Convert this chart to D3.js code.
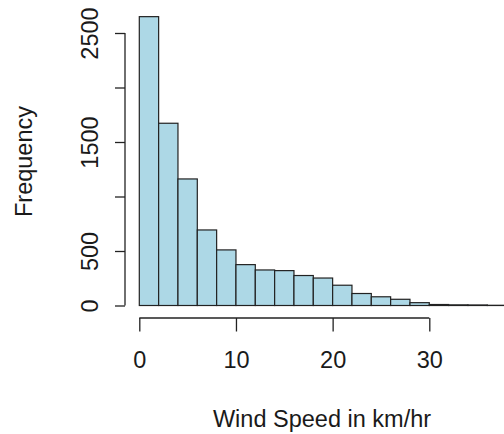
<!DOCTYPE html>
<html>
<head>
<meta charset="utf-8">
<script src="https://cdn.jsdelivr.net/npm/d3@7"></script>
<style>
html,body{margin:0;padding:0;background:#fff;}
svg{display:block;}
text{font-family:"Liberation Sans",Arial,Helvetica,sans-serif;fill:#1a1a1a;}
</style>
</head>
<body>
<svg id="chart" width="504" height="434"></svg>
<script>
// Histogram bins (km/hr), width 2
const binStarts = [0,2,4,6,8,10,12,14,16,18,20,22,24,26,28,30,32,34,36,38];
const binWidth = 2;
const counts = [2650,1672,1161,693,510,375,326,320,275,252,186,110,80,57,26,9,6,5,2,1];

const xTickValues = [0,10,20,30];
const xTickLabels = ["0","10","20","30"];
const yTickValues = [0,500,1000,1500,2000,2500];
const yTickLabels = ["0","500","","1500","","2500"];

const xLabel = "Wind Speed in km/hr";
const yLabel = "Frequency";

const svg = d3.select("#chart");
const x = d3.scaleLinear().domain([0,30]).range([139.3,429.3]);
const y = d3.scaleLinear().domain([0,2500]).range([305.5,33]);

const fs = 23.5;

// bars
svg.append("g").selectAll("rect")
  .data(binStarts.map((s,i)=>({s, c:counts[i]})))
  .join("rect")
  .attr("x", d=>x(d.s))
  .attr("width", d=>x(d.s+binWidth)-x(d.s))
  .attr("y", d=>y(d.c))
  .attr("height", d=>y(0)-y(d.c))
  .attr("fill","#ADD8E6")
  .attr("stroke","#222")
  .attr("stroke-width",1.2);

// y axis
const yAxis = d3.axisLeft(y).tickValues(yTickValues)
  .tickSize(10).tickFormat((d,i)=>yTickLabels[i]);
const gy = svg.append("g").attr("transform","translate(125,0)").call(yAxis);
gy.select(".domain").attr("stroke","#222").attr("stroke-width",1.3).attr("fill","none")
  .attr("d",`M0,${y(0)}V${y(2500)}`);
gy.selectAll(".tick line").attr("stroke","#222").attr("stroke-width",1.3);
gy.selectAll(".tick text")
  .attr("font-size",fs).attr("fill","#1a1a1a")
  .attr("font-family","Liberation Sans, Arial, sans-serif")
  .attr("text-anchor","middle")
  .attr("x",null)
  .attr("transform","translate(-35,0) rotate(-90)")
  .attr("y",0)
  .attr("dy","0.32em");

// x axis
const xAxis = d3.axisBottom(x).tickValues(xTickValues).tickSize(13.5)
  .tickFormat((d,i)=>xTickLabels[i]);
const gx = svg.append("g").attr("transform","translate(0,318)").call(xAxis);
gx.select(".domain").attr("d",`M${x(0)},0H${x(30)}`).attr("stroke","#222").attr("stroke-width",1.3).attr("fill","none");
gx.selectAll(".tick line").attr("stroke","#222").attr("stroke-width",1.3);
gx.selectAll(".tick text")
  .attr("font-size",fs).attr("fill","#1a1a1a")
  .attr("font-family","Liberation Sans, Arial, sans-serif")
  .attr("y",42.5).attr("dy","0.32em");

// axis titles
svg.append("text")
  .attr("x",322).attr("y",419).attr("dy","0.32em")
  .attr("text-anchor","middle").attr("font-size",fs)
  .text(xLabel);
svg.append("text")
  .attr("transform",`translate(24,161.5) rotate(-90)`)
  .attr("text-anchor","middle").attr("dy","0.32em").attr("font-size",fs)
  .text(yLabel);
</script>
</body>
</html>
